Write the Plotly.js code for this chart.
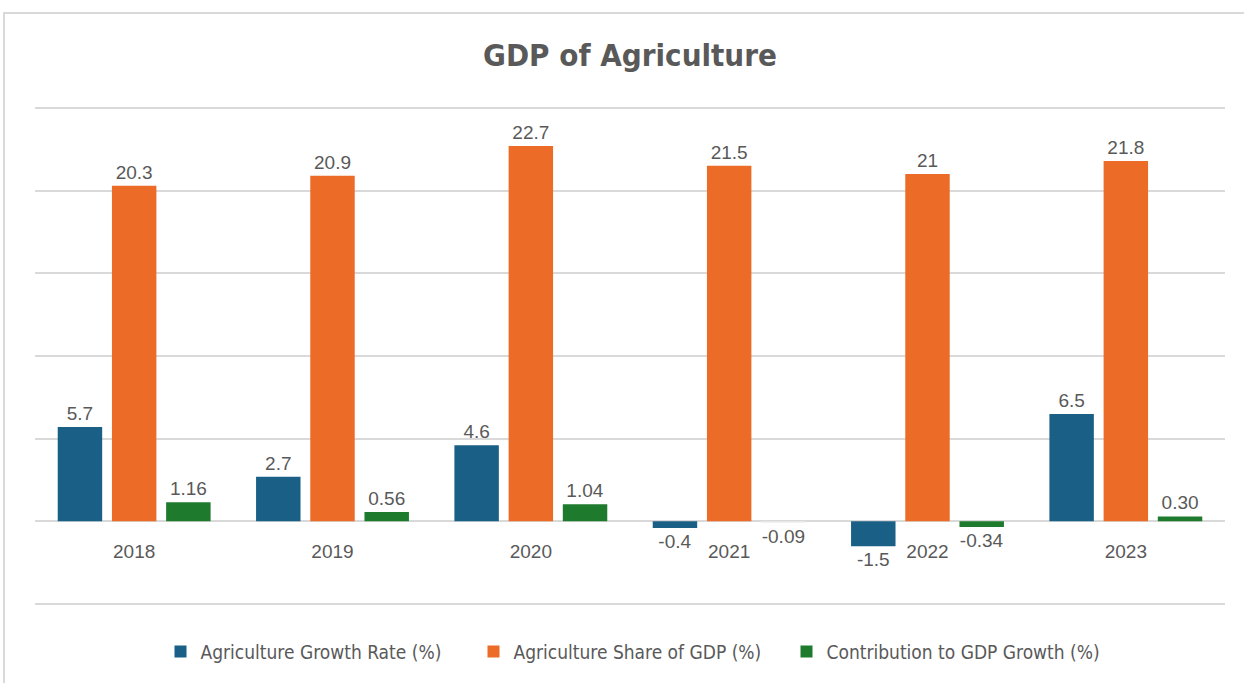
<!DOCTYPE html>
<html>
<head>
<meta charset="utf-8">
<script src="https://cdn.plot.ly/plotly-3.0.1.min.js"></script>
<style>
  html, body { margin: 0; padding: 0; background: #ffffff; overflow: hidden; }
  #frame { position: absolute; left: 3px; top: 12px; width: 1260px; height: 700px; border: 2px solid #d9d9d9; box-sizing: border-box; pointer-events: none; z-index: 5; }
  #chart { position: absolute; left: 0; top: 0; width: 1244px; height: 683px; }
</style>
</head>
<body>
<div id="chart"></div>
<div id="frame"></div>
<script>
const years = ['2018', '2019', '2020', '2021', '2022', '2023'];
const growthRate = [5.7, 2.7, 4.6, -0.4, -1.5, 6.5];
const shareOfGDP = [20.3, 20.9, 22.7, 21.5, 21, 21.8];
const contribution = [1.16, 0.56, 1.04, -0.09, -0.34, 0.30];
const seriesNames = ['Agriculture Growth Rate (%)', 'Agriculture Share of GDP (%)', 'Contribution to GDP Growth (%)'];

const labelFont = { family: 'Liberation Sans, Arial, sans-serif', size: 19, color: '#595959' };
const narrow = 'Liberation Sans Narrow, DejaVu Sans Condensed, Roboto Condensed, sans-serif';

const greenColors = contribution.map((v, i) => i === 3 ? '#ececec' : '#1e7a2c');

const traces = [
  {
    type: 'bar', name: seriesNames[0], x: years, y: growthRate,
    text: growthRate.map(v => String(v)), textposition: 'outside',
    textfont: labelFont, cliponaxis: false,
    marker: { color: '#1a5f86' }, hoverinfo: 'x+y'
  },
  {
    type: 'bar', name: seriesNames[1], x: years, y: shareOfGDP,
    text: shareOfGDP.map(v => String(v)), textposition: 'outside',
    textfont: labelFont, cliponaxis: false,
    marker: { color: '#ec6b27' }, hoverinfo: 'x+y'
  },
  {
    type: 'bar', name: seriesNames[2], x: years, y: contribution,
    text: contribution.map(v => v.toFixed(2)), textposition: 'outside',
    textfont: labelFont, cliponaxis: false,
    marker: { color: greenColors }, hoverinfo: 'x+y'
  }
];

const yMin = -5.3, yMax = 25.3;

const layout = {
  width: 1244, height: 683,
  margin: { l: 35, r: 19, t: 103, b: 70 },
  paper_bgcolor: '#ffffff', plot_bgcolor: '#ffffff',
  title: {
    text: '<b>GDP of Agriculture</b>',
    x: 0.5, xref: 'paper', xanchor: 'center',
    y: 1 - 55 / 683, yref: 'container', yanchor: 'middle',
    font: { family: narrow, size: 31, color: '#595959' }
  },
  barmode: 'group',
  bargap: 0.18,
  bargroupgap: 0.18,
  xaxis: {
    type: 'category',
    anchor: 'free', position: (0 - yMin) / (yMax - yMin),
    showgrid: false, showline: false, zeroline: false,
    ticks: '', ticklabelstandoff: 17,
    tickfont: labelFont
  },
  yaxis: {
    range: [yMin, yMax], dtick: 5, tick0: 0,
    showticklabels: false, ticks: '',
    showgrid: true, gridcolor: '#d9d9d9', gridwidth: 2,
    zeroline: true, zerolinecolor: '#d9d9d9', zerolinewidth: 2,
    showline: false
  },
  showlegend: true,
  legend: {
    orientation: 'h', x: 0.5, xanchor: 'center', y: -43 / 510, yanchor: 'middle',
    font: { family: narrow, size: 19, color: '#595959' },
    itemwidth: 30, tracegroupgap: 0,
    entrywidth: 268, entrywidthmode: 'pixels'
  }
};

Plotly.newPlot('chart', traces, layout, { displayModeBar: false, staticPlot: true });
</script>
</body>
</html>
